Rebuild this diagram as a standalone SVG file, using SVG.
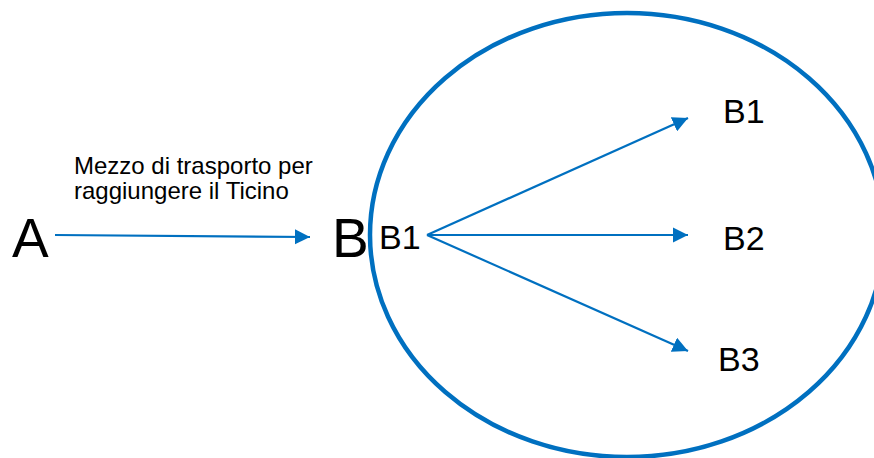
<svg xmlns="http://www.w3.org/2000/svg" width="874" height="458" viewBox="0 0 874 458">
<style>
text{font-family:"Liberation Sans",Arial,sans-serif;fill:#000}
.big{font-size:55px}
.mid{font-size:34px}
.small{font-size:24px}
.conn{stroke:#0070C0;stroke-width:2.2;fill:none}
</style>
<defs>
<marker id="ah" viewBox="0 0 10 10" refX="10" refY="5" markerWidth="7" markerHeight="7" markerUnits="strokeWidth" orient="auto">
<path d="M0,0 L10,5 L0,10 z" fill="#0070C0"/>
</marker>
</defs>
<g id="region"><ellipse cx="627" cy="235" rx="257" ry="222" fill="none" stroke="#0070C0" stroke-width="4.5"/></g>
<g id="nodeA"><text class="big" x="12" y="257">A</text></g>
<g id="nodeB"><text class="big" x="332" y="257">B</text></g>
<g id="nodeB1src"><text class="mid" x="379" y="249">B1</text></g>
<g id="nodeB1"><text class="mid" x="723" y="123">B1</text></g>
<g id="nodeB2"><text class="mid" x="723" y="250">B2</text></g>
<g id="nodeB3"><text class="mid" x="718" y="371">B3</text></g>
<g id="label"><text class="small" x="74" y="174">Mezzo di trasporto per</text><text class="small" x="74" y="199">raggiungere il Ticino</text></g>
<g id="connectors">
<line class="conn" x1="55" y1="235" x2="310" y2="237" marker-end="url(#ah)"/>
<line class="conn" x1="427" y1="235" x2="688" y2="118" marker-end="url(#ah)"/>
<line class="conn" x1="427" y1="235" x2="688" y2="235" marker-end="url(#ah)"/>
<line class="conn" x1="427" y1="235" x2="688" y2="351" marker-end="url(#ah)"/>
</g>
</svg>
